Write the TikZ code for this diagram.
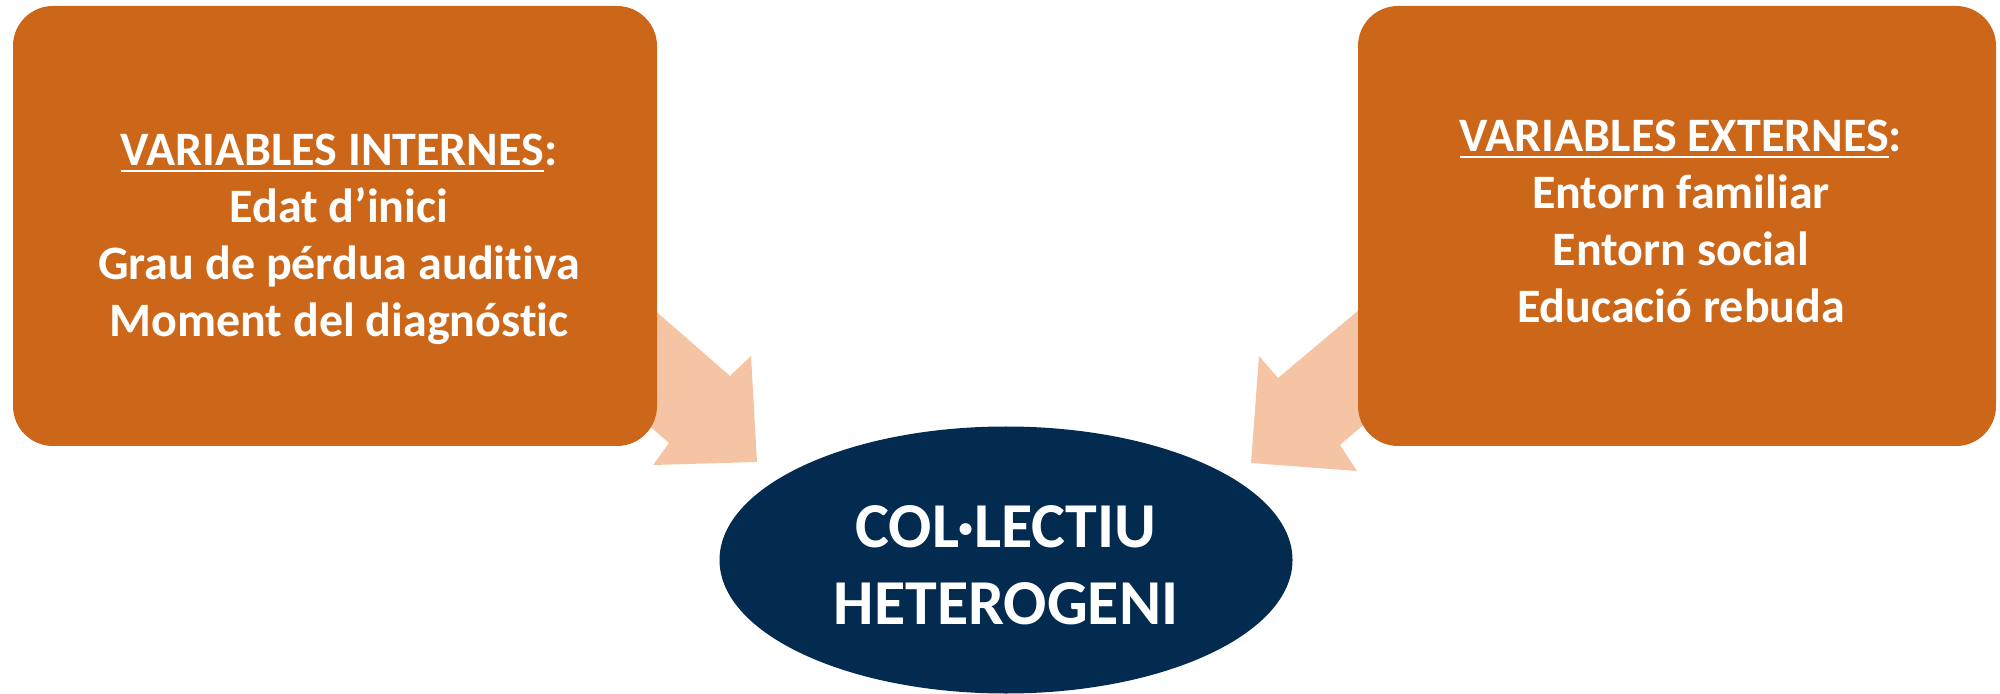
\documentclass[tikz,border=0pt]{standalone}
\usepackage{fontspec}
\setmainfont{Carlito}[Ligatures={NoCommon,NoRare}]
\usetikzlibrary{shapes.geometric}
\definecolor{boxorange}{HTML}{CC671A}
\definecolor{navy}{HTML}{032B4F}
\definecolor{peach}{HTML}{F5C4A4}
\newcommand\myul[1]{\setbox0\hbox{#1}\rlap{\rule[-3.6pt]{\wd0}{1.1pt}}\box0}
\tikzset{
  varbox/.style={draw=none, fill=boxorange, rounded corners=20pt, inner sep=0pt},
  boxtext/.style={text=white, align=center, font=\fontsize{24}{28.5}\selectfont\bfseries, inner sep=0pt},
  centretext/.style={text=white, align=center, font=\fontsize{32}{38.5}\selectfont\bfseries, inner sep=0pt},
  blockarrow/.style={fill=peach, draw=none}
}
\begin{document}
\begin{tikzpicture}[x=0.5pt,y=-0.5pt]
\useasboundingbox (0,0) rectangle (2000,694);
% block arrows (shaft partly behind boxes)
\fill[blockarrow] (600,263) -- (659,314) -- (730,376) -- (751,356) -- (757,462) -- (653,465) -- (669,443) -- (600,383) -- cycle;
\fill[blockarrow] (1410,263) -- (1353,315) -- (1278,378) -- (1259,356) -- (1251,463) -- (1357,471) -- (1340,445) -- (1410,385) -- cycle;
% boxes
\node[varbox, minimum width=322pt, minimum height=220pt] (leftbox) at (335,226) {};
\node[varbox, minimum width=319pt, minimum height=220pt] (rightbox) at (1677,226) {};
\node[boxtext] (lefttext) at (339,239) {\myul{VARIABLES INTERNES}:\\Edat d’inici\\Grau de pérdua auditiva\\Moment del diagnóstic};
\node[boxtext] (righttext) at (1681,221) {\myul{VARIABLES EXTERNES}:\\Entorn familiar\\Entorn social\\Educació rebuda};
% ellipse
\node[ellipse, fill=navy, minimum width=286.5pt, minimum height=133.5pt, inner sep=0pt] (centre) at (1006,560) {};
\node[centretext] (centretxt) at (1006,565) {COL·LECTIU\\HETEROGENI};
\end{tikzpicture}
\end{document}
